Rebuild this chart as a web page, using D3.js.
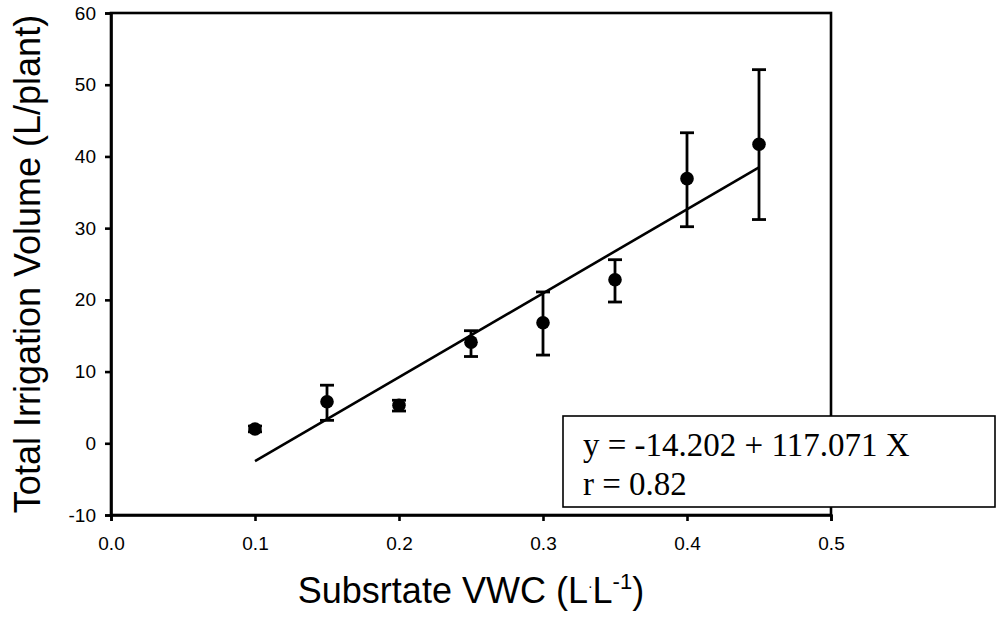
<!DOCTYPE html>
<html>
<head>
<meta charset="utf-8">
<script src="https://cdn.jsdelivr.net/npm/d3@7"></script>
<style>
  html, body { margin: 0; padding: 0; background: #fff; }
  svg { display: block; }
  text { font-family: "Liberation Sans", Arial, sans-serif; fill: #000; }
</style>
</head>
<body>
<svg id="chart" width="996" height="620"></svg>
<script>
// ---- data ----
const vwc      = [0.10, 0.15, 0.20, 0.25, 0.30, 0.35, 0.40, 0.45];
const volume   = [2.0, 5.8, 5.3, 14.1, 16.8, 22.8, 36.9, 41.7];
const errLow   = [1.6, 3.2, 4.5, 12.1, 12.3, 19.7, 30.2, 31.2];
const errHigh  = [2.4, 8.1, 6.0, 15.7, 21.1, 25.6, 43.3, 52.1];
const xTicks   = [0.0, 0.1, 0.2, 0.3, 0.4, 0.5];
const yTicks   = [-10, 0, 10, 20, 30, 40, 50, 60];
const fitIntercept = -14.202;
const fitSlope     = 117.071;
const fitRange     = [0.10, 0.45];
const eqLines  = ["y = -14.202 + 117.071 X", "r = 0.82"];

// ---- layout ----
const L = 111, R = 831, T = 13, B = 515;
const svg = d3.select("#chart");
const x = d3.scaleLinear().domain([0, 0.5]).range([L, R]);
const y = d3.scaleLinear().domain([-10, 60]).range([B, T]);

// regression line
svg.append("line")
  .attr("x1", x(fitRange[0])).attr("y1", y(fitIntercept + fitSlope * fitRange[0]))
  .attr("x2", x(fitRange[1])).attr("y2", y(fitIntercept + fitSlope * fitRange[1]))
  .attr("stroke", "#000").attr("stroke-width", 2.6);

// error bars
const eb = svg.append("g").attr("stroke", "#000").attr("stroke-width", 2.8);
vwc.forEach((v, i) => {
  const cx = x(v);
  eb.append("line").attr("x1", cx).attr("x2", cx).attr("y1", y(errLow[i])).attr("y2", y(errHigh[i]));
  eb.append("line").attr("x1", cx - 7).attr("x2", cx + 7).attr("y1", y(errLow[i])).attr("y2", y(errLow[i]));
  eb.append("line").attr("x1", cx - 7).attr("x2", cx + 7).attr("y1", y(errHigh[i])).attr("y2", y(errHigh[i]));
});

// points
svg.append("g").selectAll("circle").data(vwc).join("circle")
  .attr("cx", d => x(d)).attr("cy", (d, i) => y(volume[i])).attr("r", 6.8).attr("fill", "#000");

// frame
svg.append("rect").attr("x", L).attr("y", T).attr("width", R - L).attr("height", B - T)
  .attr("fill", "none").attr("stroke", "#000").attr("stroke-width", 2.6);

// axes
const yAxis = svg.append("g").attr("transform", `translate(${L},0)`)
  .call(d3.axisLeft(y).tickValues(yTicks).tickSize(6).tickPadding(9).tickFormat(d => String(d)));
const xAxis = svg.append("g").attr("transform", `translate(0,${B})`)
  .call(d3.axisBottom(x).tickValues(xTicks).tickSize(6).tickPadding(16).tickFormat(d => d.toFixed(1)));
[yAxis, xAxis].forEach(g => {
  g.select(".domain").attr("stroke-width", 2.6);
  g.selectAll(".tick line").attr("stroke-width", 2.6);
  g.selectAll(".tick text").style("font-family", '"Liberation Sans", Arial, sans-serif').style("font-size", "19px").attr("fill", "#000");
});

// axis titles
svg.append("text")
  .attr("transform", `translate(40,${(T + B) / 2}) rotate(-90)`)
  .attr("text-anchor", "middle").style("font-size", "36px")
  .text("Total Irrigation Volume (L/plant)");

const xt = svg.append("text").attr("x", (L + R) / 2).attr("y", 603)
  .attr("text-anchor", "middle").style("font-size", "36px");
xt.append("tspan").text("Subsrtate VWC (L");
xt.append("tspan").attr("dy", -12).style("font-size", "14px").text("·");
xt.append("tspan").attr("dy", 12).text("L");
xt.append("tspan").attr("dy", -14).style("font-size", "22px").text("-1");
xt.append("tspan").attr("dy", 14).text(")");

// equation box
svg.append("rect").attr("x", 563).attr("y", 416).attr("width", 432).attr("height", 91)
  .attr("fill", "#fff").attr("stroke", "#000").attr("stroke-width", 1.6);
svg.append("g").selectAll("text").data(eqLines).join("text")
  .attr("x", 583).attr("y", (d, i) => 456 + i * 39)
  .style("font-family", '"Liberation Serif", "Times New Roman", serif')
  .style("font-size", "33px")
  .text(d => d);
</script>
</body>
</html>
